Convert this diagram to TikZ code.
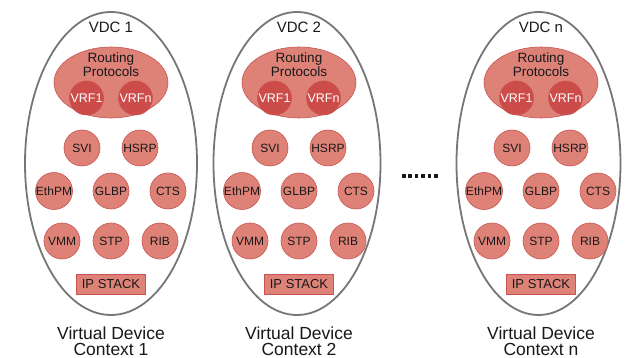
\documentclass[tikz,border=0pt]{standalone}
\usepackage{fontspec}
\setmainfont{Liberation Sans}
\usetikzlibrary{shapes.geometric,calc}

\definecolor{shell}{RGB}{118,118,118}
\definecolor{svcfill}{RGB}{222,130,120}
\definecolor{svcline}{RGB}{200,84,82}
\definecolor{vrffill}{RGB}{204,76,74}
\definecolor{ink}{RGB}{24,24,24}

\tikzset{
  vdcshell/.style={ellipse, draw=shell, line width=1.8pt, minimum height=303pt, inner sep=0pt},
  routing/.style={ellipse, fill=svcfill, draw=svcline, line width=0.6pt,
    minimum width=114pt, minimum height=71pt, inner sep=0pt},
  routingtext/.style={align=center, text=ink, font=\fontsize{13.5}{14.5}\selectfont},
  vrf/.style={circle, fill=vrffill, draw=svcline, line width=0.6pt, minimum size=34pt,
    inner sep=0pt, text=white, font=\fontsize{12.5}{13}\selectfont},
  svc/.style={circle, fill=svcfill, draw=svcline, line width=0.6pt, minimum size=36pt,
    inner sep=0pt, text=ink, font=\fontsize{12}{13}\selectfont},
  ipstack/.style={rectangle, fill=svcfill, draw=svcline, line width=0.6pt,
    minimum width=69pt, minimum height=20pt, inner sep=0pt, text=ink,
    font=\fontsize{13}{13}\selectfont},
  vdctitle/.style={anchor=base, text=ink, font=\fontsize{15}{15}\selectfont},
  caption/.style={anchor=base, text=ink, inner sep=0pt, font=\fontsize{17.5}{17.5}\selectfont}
}

% #1 id, #2 shell centre x, #3 shell width, #4 content centre x, #5 label suffix
\newcommand{\vdcunit}[5]{%
  \node[vdcshell, minimum width=#3pt] (shell#1) at (#2,163.5) {};
  \node[vdctitle] (title#1) at (#4,33) {VDC #5};
  \node[routing] (rp#1) at (#4,82.5) {};
  \node[routingtext] (rptext#1) at (#4,64.5) {Routing\\Protocols};
  \node[vrf] (vrfa#1) at ($(#4,98)+(-24.5,0)$) {VRF1};
  \node[vrf] (vrfb#1) at ($(#4,98)+(24.5,0)$) {VRFn};
  \node[svc] (svi#1)  at ($(#4,148)+(-29,0)$) {SVI};
  \node[svc] (hsrp#1) at ($(#4,148)+(29,0)$) {HSRP};
  \node[svc] (ethpm#1) at ($(#4,191)+(-57,0)$) {EthPM};
  \node[svc] (glbp#1)  at (#4,191) {GLBP};
  \node[svc] (cts#1)   at ($(#4,191)+(57,0)$) {CTS};
  \node[svc] (vmm#1) at ($(#4,241)+(-49,0)$) {VMM};
  \node[svc] (stp#1) at (#4,241) {STP};
  \node[svc] (rib#1) at ($(#4,241)+(49,0)$) {RIB};
  \node[ipstack] (ip#1) at (#4,284.5) {IP STACK};
  \node[caption] (capa#1) at (#4,339.5) {Virtual Device};
  \node[caption] (capb#1) at (#4,355.5) {Context #5};
}

\begin{document}
\begin{tikzpicture}[x=1pt, y=-1pt]
  \useasboundingbox (0,0) rectangle (635,358);
  \fill[white] (0,0) rectangle (635,358);

  \vdcunit{one}{111}{172}{111}{1}
  \vdcunit{two}{297}{167}{299}{2}
  \vdcunit{n}{538.5}{164}{541}{n}

  % ellipsis between the second and the last context
  \coordinate (dotsL) at (402,176);
  \coordinate (dotsR) at (437.5,176);
  \draw[ink, line width=3.6pt, dash pattern=on 3.6pt off 2.8pt] (dotsL) -- (dotsR);
\end{tikzpicture}
\end{document}
